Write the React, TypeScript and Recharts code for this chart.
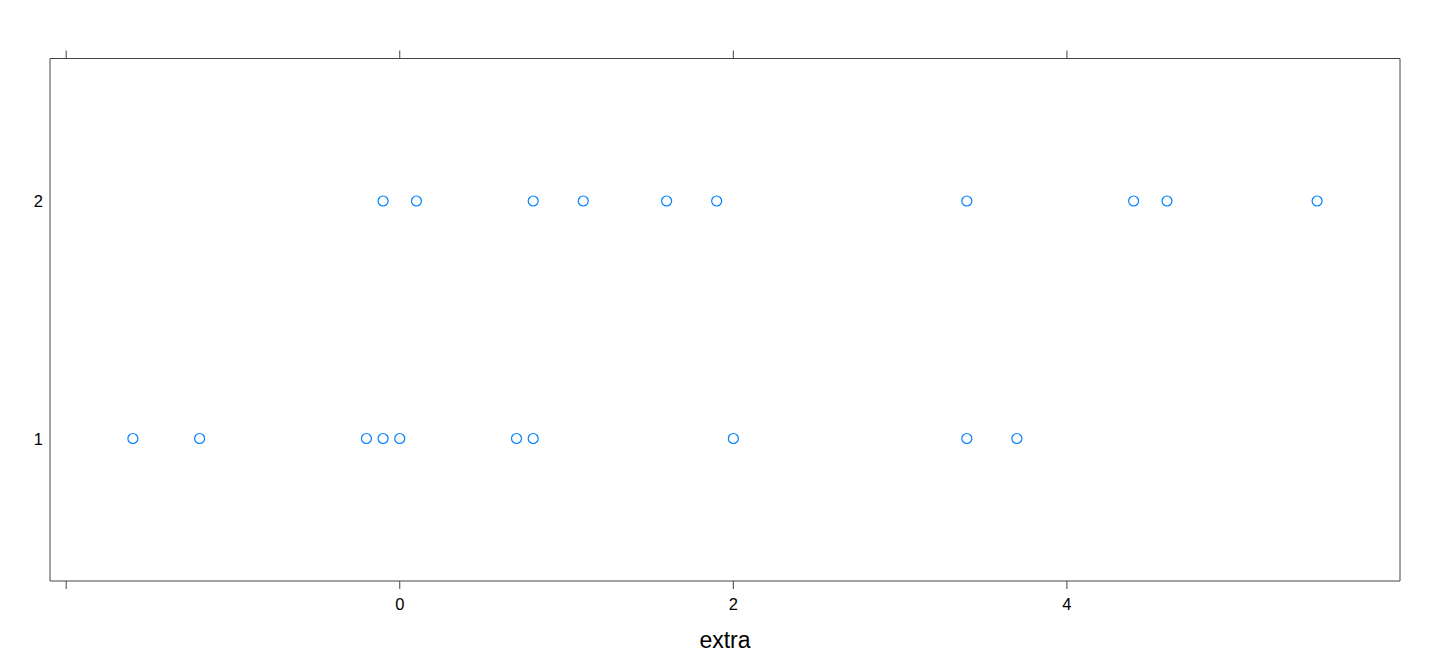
import React from 'react';
import { ScatterChart, Scatter, XAxis, YAxis } from 'recharts';

const group1Extra = [0.7, -1.6, -0.2, -1.2, -0.1, 3.4, 3.7, 0.8, 0.0, 2.0];
const group2Extra = [1.9, 0.8, 1.1, 0.1, -0.1, 4.4, 5.5, 1.6, 4.6, 3.4];
const groupLevels = [1, 2];
const xTicks = [-2, 0, 2, 4];
const xLabelledTicks = [0, 2, 4];
const xTitle = 'extra';

const data1 = group1Extra.map((x) => ({ x, y: groupLevels[0] }));
const data2 = group2Extra.map((x) => ({ x, y: groupLevels[1] }));

const FONT = '"Liberation Sans", Arial, Helvetica, sans-serif';
const AXIS = '#444444';
const POINT = '#0080ff';

const Ring = (props: any) => {
  const { cx, cy } = props;
  if (cx == null || cy == null) return null;
  return <circle cx={cx} cy={cy} r={5} fill="none" stroke={POINT} strokeWidth={1.2} />;
};

const BottomTick = (props: any) => {
  const { x, y, payload } = props;
  const v = payload?.value;
  if (!xLabelledTicks.includes(v)) return <g />;
  return (
    <text x={x} y={y + 20.5} textAnchor="middle" fontSize={16.5} fontFamily={FONT} fill="#000">
      {String(v)}
    </text>
  );
};

const LeftTick = (props: any) => {
  const { x, y, payload } = props;
  return (
    <text x={x} y={y + 6} textAnchor="end" fontSize={16.5} fontFamily={FONT} fill="#000">
      {String(payload?.value)}
    </text>
  );
};

const XTitle = (props: any) => {
  const vb = props.viewBox || {};
  return (
    <text x={vb.x + vb.width / 2} y={vb.y + 67} textAnchor="middle" fontSize={23} fontFamily={FONT} fill="#000">
      {xTitle}
    </text>
  );
};

export default function App() {
  return (
    <div style={{ position: 'absolute', left: 0, top: 0, width: 1440, height: 672, background: '#fff' }}>
      <ScatterChart width={1440} height={672} margin={{ top: 0, right: 0, bottom: 0, left: 0 }}>
        <XAxis
          xAxisId="bottom"
          dataKey="x"
          type="number"
          orientation="bottom"
          domain={[-2.097, 5.997]}
          allowDataOverflow
          ticks={xTicks}
          interval={0}
          height={91}
          tickSize={8}
          tickMargin={0}
          tickLine={{ stroke: AXIS }}
          axisLine={{ stroke: AXIS }}
          tick={BottomTick}
          label={<XTitle />}
        />
        <XAxis
          xAxisId="top"
          dataKey="x"
          type="number"
          orientation="top"
          domain={[-2.097, 5.997]}
          allowDataOverflow
          ticks={xTicks}
          interval={0}
          height={58.5}
          tickSize={8}
          tickLine={{ stroke: AXIS }}
          axisLine={{ stroke: AXIS }}
          tick={() => <g />}
        />
        <YAxis
          yAxisId="left"
          dataKey="y"
          type="number"
          orientation="left"
          domain={[0.4, 2.6]}
          allowDataOverflow
          ticks={groupLevels}
          interval={0}
          width={50}
          tickSize={0}
          tickMargin={7}
          tickLine={false}
          axisLine={{ stroke: AXIS }}
          tick={LeftTick}
        />
        <YAxis
          yAxisId="right"
          dataKey="y"
          type="number"
          orientation="right"
          domain={[0.4, 2.6]}
          allowDataOverflow
          ticks={groupLevels}
          width={40}
          tickLine={false}
          axisLine={{ stroke: AXIS }}
          tick={() => <g />}
        />
        <Scatter data={data1} xAxisId="bottom" yAxisId="left" shape={Ring} isAnimationActive={false} />
        <Scatter data={data2} xAxisId="bottom" yAxisId="left" shape={Ring} isAnimationActive={false} />
      </ScatterChart>
    </div>
  );
}
